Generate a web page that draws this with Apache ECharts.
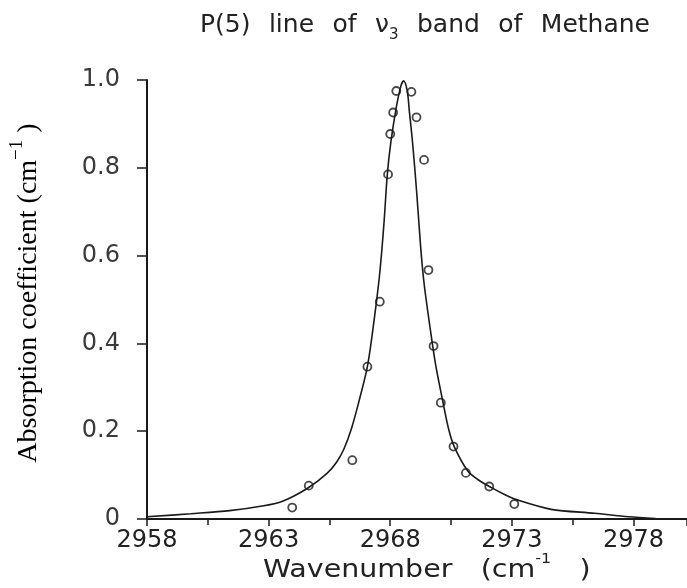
<!DOCTYPE html>
<html><head><meta charset="utf-8">
<script src="https://cdn.jsdelivr.net/npm/echarts@6/dist/echarts.min.js"></script>
<style>html,body{margin:0;padding:0;background:#fff}#c{width:687px;height:588px}</style>
</head><body><div id="c"></div>
<script>
// Fitted line
const curveWavenumber = [2958.0, 2959.8, 2961.4, 2962.8, 2963.6, 2964.6, 2965.4, 2965.8, 2966.1, 2966.4, 2966.7, 2967.06, 2967.33, 2967.54, 2967.65, 2967.75, 2967.88, 2968.02, 2968.23, 2968.43, 2968.55, 2968.7, 2968.78, 2968.92, 2969.09, 2969.25, 2969.39, 2969.67, 2969.88, 2970.15, 2970.4, 2970.63, 2971.18, 2971.6, 2972.14, 2972.7, 2973.25, 2974.62, 2976.4, 2977.8, 2978.9];
const curveAbsorption = [0.005, 0.012, 0.019, 0.03, 0.041, 0.07, 0.104, 0.13, 0.16, 0.205, 0.265, 0.347, 0.45, 0.545, 0.61, 0.68, 0.785, 0.856, 0.932, 0.985, 0.998, 0.975, 0.932, 0.856, 0.742, 0.62, 0.537, 0.423, 0.347, 0.271, 0.205, 0.165, 0.11, 0.09, 0.072, 0.056, 0.043, 0.022, 0.013, 0.005, 0.001];
// Measured points
const pointWavenumber = [2963.97, 2964.65, 2966.44, 2967.06, 2967.57, 2967.91, 2968.0, 2968.12, 2968.25, 2968.57, 2968.87, 2969.08, 2969.39, 2969.57, 2969.78, 2970.08, 2970.6, 2971.11, 2972.07, 2973.1];
const pointAbsorption = [0.026, 0.076, 0.134, 0.347, 0.495, 0.785, 0.877, 0.926, 0.975, 1.007, 0.973, 0.915, 0.818, 0.567, 0.394, 0.265, 0.165, 0.105, 0.074, 0.034];
// Axis ticks
const xTickValues = [2958, 2963, 2968, 2973, 2978];
const yTickValues = [0, 0.2, 0.4, 0.6, 0.8, 1.0];
const yTickLabels = ['0', '0.2', '0.4', '0.6', '0.8', '1.0'];

const chart = echarts.init(document.getElementById('c'), null, {renderer: 'canvas'});
const ink = '#1a1a1a';
const option = {
  animation: false,
  backgroundColor: '#fff',
  grid: {left: 147, right: 0, top: 80, bottom: 69, containLabel: false},
  xAxis: {
    type: 'value', min: 2958, max: 2980.2, interval: 5,
    axisLine: {show: true, onZero: false, lineStyle: {color: ink, width: 2}},
    axisTick: {show: true, inside: false, length: 7, lineStyle: {color: ink, width: 1.5}},
    minorTick: {show: true, splitNumber: 2, length: 6, lineStyle: {color: ink, width: 1.5}},
    splitLine: {show: false},
    axisLabel: {
      show: true, margin: 10, fontSize: 24, fontFamily: 'DejaVu Sans', color: '#222',
      showMaxLabel: false,
      formatter: v => { const i = xTickValues.findIndex(t => Math.abs(t - v) < 1e-6); return i >= 0 ? String(xTickValues[i]) : ''; }
    }
  },
  yAxis: {
    type: 'value', min: 0, max: 1, interval: 0.2,
    axisLine: {show: true, lineStyle: {color: ink, width: 2}},
    axisTick: {show: true, inside: false, length: 10, lineStyle: {color: ink, width: 1.5}},
    splitLine: {show: false},
    axisLabel: {
      show: true, margin: 27, fontSize: 24, fontFamily: 'DejaVu Sans', color: '#3a3a3a',
      padding: [0, 0, 10, 0],
      formatter: v => { const i = yTickValues.findIndex(t => Math.abs(t - v) < 1e-6); return i >= 0 ? yTickLabels[i] : ''; }
    }
  },
  graphic: [
    {
      type: 'text', left: 200, top: 11, z: 10,
      style: {
        text: '{t|P(5)}{sp|  }{t|line}{sp|  }{t|of}{sp|  }{t|ν}{sub|3}{sp|  }{t|band}{sp|  }{t|of}{sp|  }{t|Methane}',
        rich: {
          t: {fontSize: 25, fontFamily: 'DejaVu Sans', fill: '#222', lineHeight: 34},
          sp: {fontSize: 29, fontFamily: 'DejaVu Sans', fill: '#222', lineHeight: 34},
          sub: {fontSize: 15, fontFamily: 'DejaVu Sans', fill: '#222', verticalAlign: 'bottom', lineHeight: 15}
        }
      }
    },
    {
      type: 'text', x: 29, y: 293, rotation: Math.PI / 2, z: 10,
      style: {
        text: '{m|Absorption coefficient (cm}{sup|−1}{m| )}',
        textAlign: 'center', textVerticalAlign: 'middle',
        rich: {
          m: {fontSize: 28, fontFamily: 'Liberation Serif', fill: '#000', lineHeight: 42},
          sup: {fontSize: 19, fontFamily: 'Liberation Serif', fill: '#000', verticalAlign: 'top', lineHeight: 19}
        }
      }
    },
    {
      type: 'text', x: 263, y: 570, scaleX: 1.14, z: 10,
      style: {
        text: '{m|Wavenumber}{sp|   }{m|(cm}{sup|-1}{sp|   }{m|)}',
        textAlign: 'left', textVerticalAlign: 'middle',
        rich: {
          m: {fontSize: 25, fontFamily: 'DejaVu Sans', fill: '#222', lineHeight: 36},
          sp: {fontSize: 26, fontFamily: 'DejaVu Sans', fill: '#222', lineHeight: 36},
          sup: {fontSize: 14, fontFamily: 'DejaVu Sans', fill: '#222', verticalAlign: 'top', lineHeight: 14}
        }
      }
    }
  ],
  series: [
    {
      type: 'scatter', z: 2,
      data: pointWavenumber.map((x, i) => [x, pointAbsorption[i]]),
      symbol: 'circle', symbolSize: 8,
      itemStyle: {color: 'rgba(255,255,255,0)', borderColor: ink, borderWidth: 1.8}
    },
    {
      type: 'line', z: 3,
      data: curveWavenumber.map((x, i) => [x, curveAbsorption[i]]),
      showSymbol: false, symbol: 'none', smooth: 0.3,
      lineStyle: {color: ink, width: 1.6}
    }
  ]
};
chart.setOption(option);
</script>
</body></html>
